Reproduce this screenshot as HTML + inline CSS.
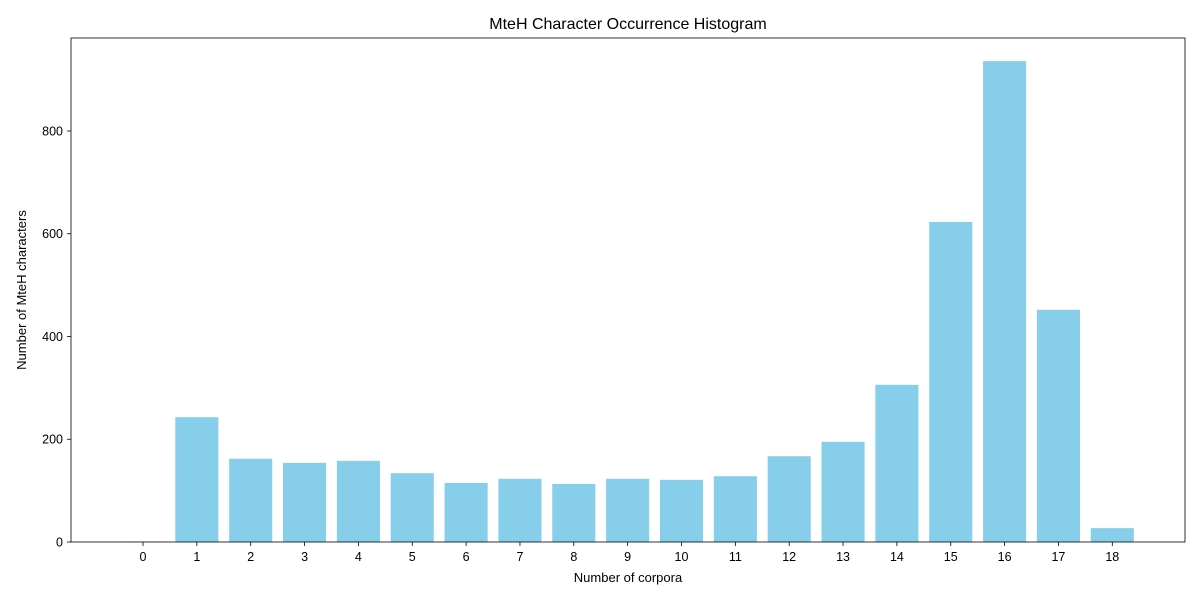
<!DOCTYPE html>
<html><head><meta charset="utf-8"><style>
body{margin:0;background:#fff;font-family:"Liberation Sans","DejaVu Sans",sans-serif;}
</style></head><body>
<svg id="chart" width="1200" height="600" xmlns="http://www.w3.org/2000/svg"></svg>
<script>
const categories=[0,1,2,3,4,5,6,7,8,9,10,11,12,13,14,15,16,17,18];
const counts=[1,243,162,154,158,134,115,123,113,123,121,128,167,195,306,623,936,452,27];
const yTicks=[0,200,400,600,800];
const L=71,R=1185,T=38,B=542;
const xMin=-1.337,xMax=19.35,yMax=981;
const sx=v=>L+(v-xMin)/(xMax-xMin)*(R-L);
const sy=v=>B-v/yMax*(B-T);
const svg=document.getElementById('chart');
const NS='http://www.w3.org/2000/svg';
function mk(tag,attrs,text){const e=document.createElementNS(NS,tag);for(const k in attrs)e.setAttribute(k,attrs[k]);if(text!==undefined)e.textContent=text;svg.appendChild(e);return e;}
const bw=(sx(0.4)-sx(-0.4));
categories.forEach((c,i)=>{
  const r=mk('rect',{x:sx(c)-bw/2,y:sy(counts[i]),width:bw,height:B-sy(counts[i]),fill:'#87ceeb'});
  
  
  const tk=mk('line',{x1:sx(c),x2:sx(c),y1:B,y2:B+4,stroke:'#000','stroke-width':0.8});
  
  
  const t=mk('text',{x:sx(c),y:B+19,'text-anchor':'middle','font-size':12.5},String(c));
  
  
});
yTicks.forEach(v=>{
  const tk=mk('line',{x1:L-4,x2:L,y1:sy(v),y2:sy(v),stroke:'#000','stroke-width':0.8});
  
  
  const t=mk('text',{x:L-8,y:sy(v)+4.5,'text-anchor':'end','font-size':12.5},String(v));
  
  
});
const fr=mk('rect',{x:L,y:T,width:R-L,height:B-T,fill:'none',stroke:'#000','stroke-width':0.8});


const ti=mk('text',{x:(L+R)/2,y:29,'text-anchor':'middle','font-size':16},'MteH Character Occurrence Histogram');


const xl=mk('text',{x:(L+R)/2,y:582,'text-anchor':'middle','font-size':13},'Number of corpora');


const yl=mk('text',{x:0,y:0,'text-anchor':'middle','font-size':13,transform:'translate(26,290) rotate(-90)'},'Number of MteH characters');


</script>
</body></html>
